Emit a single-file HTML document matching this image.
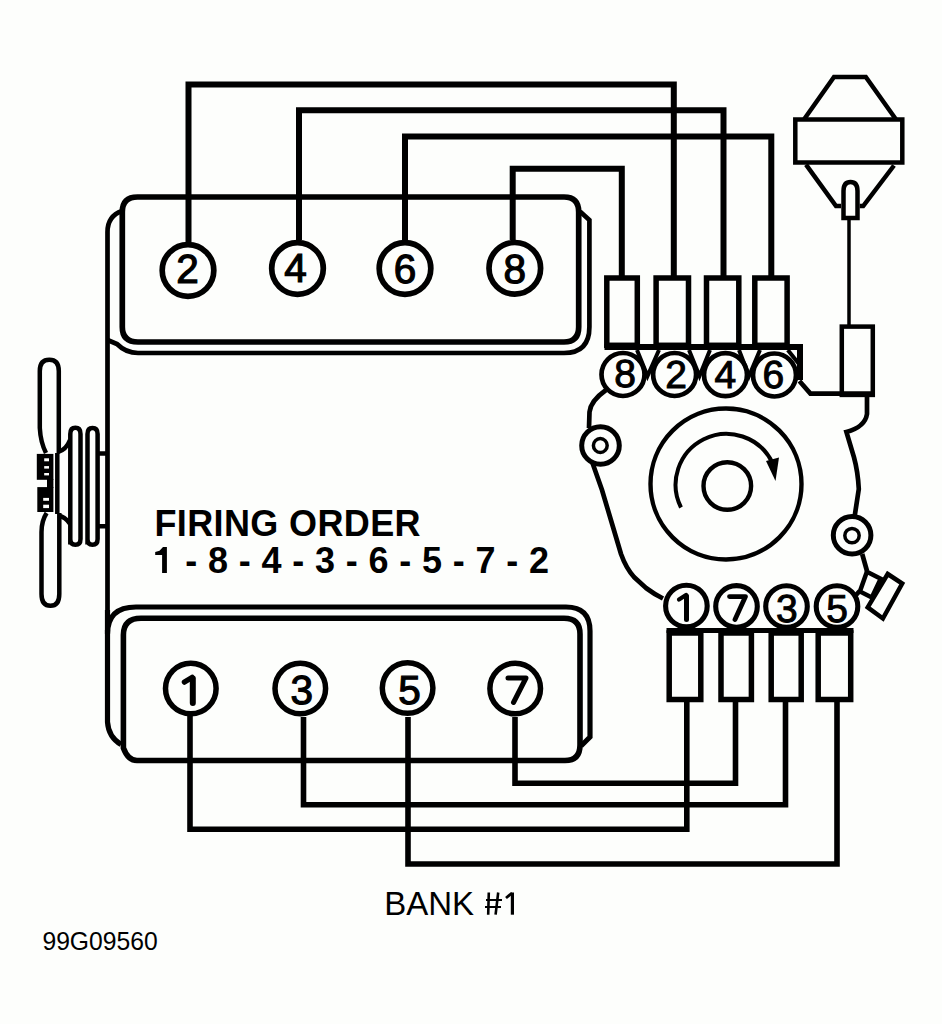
<!DOCTYPE html>
<html><head><meta charset="utf-8">
<style>
html,body{margin:0;padding:0;background:#fdfefc;}
body{width:942px;height:1024px;overflow:hidden;}
svg{display:block;}
text{font-family:"Liberation Sans",sans-serif;}
</style></head>
<body>
<svg width="942" height="1024" viewBox="0 0 942 1024">
<rect width="942" height="1024" fill="#fdfefc"/>
<g fill="none" stroke="#000" stroke-linejoin="miter" stroke-linecap="butt">

<!-- top wires -->
<g stroke-width="6">
<path d="M188.5,242 V84.5 H673.8 V276"/>
<path d="M299,240 V110.2 H723.5 V276"/>
<path d="M405,240 V136.5 H771.3 V276"/>
<path d="M512.7,240 V168.8 H621.8 V276"/>
</g>

<!-- top valve cover -->
<path d="M137.5,197 H564 Q578.7,197 578.7,212 V327 Q578.7,342 564,342 H138 Q122.3,342 122.3,327 V212 Q122.3,197 137.5,197 Z" stroke-width="5.7"/>
<g stroke-width="4.7">
<path d="M122,211 Q107.5,216 107.5,232 V620"/>
<path d="M580,211.5 L589.4,220 V327 Q589.4,353 564,353 H138 Q126,353 117,344 L107.5,340"/>
</g>

<!-- top circles -->
<g stroke-width="5.7">
<circle cx="188" cy="270.5" r="25.8"/>
<circle cx="297.5" cy="268.5" r="25.8"/>
<circle cx="405" cy="268.5" r="25.8"/>
<circle cx="514.8" cy="268.3" r="25.8"/>
</g>

<!-- bottom valve cover -->
<g stroke-width="5.2">
<path stroke-width="5.6" d="M141,618.3 H564 Q580,618.3 580,634 V745 Q580,760.5 565,760.5 H137 Q128,760.5 123.4,748 V635 Q123.4,618.3 141,618.3 Z"/>
<path d="M107.5,610 V634 Q107.5,607 136,607 H566 Q590,607 590,631 V737 L581,746"/>
<path d="M107.5,630 V722 Q108.5,737 121,744.5"/>
</g>

<!-- bottom circles -->
<g stroke-width="5.5">
<circle cx="190.8" cy="688.5" r="25.3"/>
<circle cx="300.3" cy="688.5" r="25.3"/>
<circle cx="407.6" cy="688" r="25.3"/>
<circle cx="515.2" cy="688.5" r="25.3"/>
</g>

<!-- bottom wires -->
<g stroke-width="5.6">
<path d="M686.8,702 V829.3 H190 V716"/>
<path d="M735.5,702 V783.2 H515 V717"/>
<path d="M785.5,702 V804.7 H303.5 V717"/>
<path d="M837,702 V864 H408 V717"/>
</g>

<!-- distributor top terminals -->
<g stroke-width="5.5">
<rect x="606.8" y="278" width="30.5" height="67.3"/>
<rect x="656.1" y="278" width="32.4" height="67.3"/>
<rect x="706.5" y="278" width="32.3" height="67.3"/>
<rect x="754.8" y="278" width="32.3" height="67.3"/>
</g>
<path d="M604.5,347 H800 V380" stroke-width="6"/>
<g stroke-width="4">
<path d="M637,350 L647.5,376 L659,350"/>
<path d="M689,350 L699.5,376 L710,350"/>
<path d="M739,350 L749,376 L760,350"/>
<path d="M787.8,350 L799,364"/>
</g>
<g stroke-width="4.7">
<circle cx="623" cy="374.5" r="21.5"/>
<circle cx="674.6" cy="374.5" r="21.5"/>
<circle cx="725.5" cy="374.7" r="21.5"/>
<circle cx="774.5" cy="375" r="21.5"/>
</g>

<!-- distributor bottom terminals -->
<g stroke-width="5.1">
<circle cx="686.4" cy="606" r="20.8"/>
<circle cx="736.5" cy="606.4" r="20.8"/>
<circle cx="786.5" cy="606.5" r="20.8"/>
<circle cx="837" cy="606.5" r="20.8"/>
</g>
<path d="M666.5,630.5 H853.5" stroke-width="5"/>
<g stroke-width="5.5">
<rect x="669.2" y="633" width="31.6" height="66.5"/>
<rect x="721" y="633" width="30.4" height="66.5"/>
<rect x="771.2" y="633" width="30" height="66.5"/>
<rect x="818.2" y="633" width="32.5" height="66.5"/>
</g>

<!-- distributor body -->
<g stroke-width="4.7">
<path d="M606,390 Q590.5,401 589.5,412 L589,428"/>
<path d="M592.5,463 L602,490 L613,527 L621,554 Q626,568 634,577 L646,588 Q654,594 663,598.5"/>
<path d="M799.4,381 L810.4,393.6 H871"/>
<path d="M867,397 V414 Q865,427 846.4,432 L854,457.3 Q858,472 858.8,489 L854.7,516"/>
<path d="M862.2,554 L867,571"/>
<path d="M859.7,591 L856,595"/>
</g>
<circle cx="726" cy="484" r="75.5" stroke-width="4.4"/>
<path d="M681,507.5 A49,49 0 1 1 772,462" stroke-width="4"/>
<circle cx="727.3" cy="486" r="23.8" stroke-width="4.4"/>
<g stroke-width="5">
<circle cx="600.5" cy="445.5" r="18.8"/>
<circle cx="852.1" cy="535.2" r="18.8"/>
</g>
<g stroke-width="3.5">
<circle cx="600.3" cy="445.5" r="6.9"/>
<circle cx="852" cy="535.6" r="7.2"/>
</g>
<path d="M766,461 L779,457.5 L775.5,481 Z" fill="#000" stroke="none"/>

<!-- vacuum unit -->
<g stroke-width="4.5">
<path d="M866.9,571.7 L880.7,578.8 L871.8,597.4 L859.9,591.4 Z"/>
<path d="M887.7,574 L902.2,583.6 L882.9,618.5 L867.7,607.4 Z"/>
</g>

<!-- coil -->
<g stroke-width="4.5">
<path d="M804.3,119 L834,77 H865.8 L895.7,119"/>
<rect x="795.3" y="119.5" width="107" height="43"/>
<path d="M806,164.6 L836,206 H841 M859.7,206 H863.2 L894,165.5"/>
<path d="M843.5,218 V191 Q843.5,182 850.5,182 Q857.5,182 857.5,191 V218 Z"/>
<rect x="841.8" y="326.6" width="31" height="68.3"/>
</g>
<path d="M849,218 V326" stroke-width="3.5"/>

<!-- ones -->
<g stroke-linecap="round" stroke-linejoin="round">
<path d="M192.8,678.5 V703" stroke-width="6"/>
<path d="M184.5,682 L192,677.5" stroke-width="5.5"/>
<path d="M686.5,596 V619.5" stroke-width="5"/>
<path d="M679,599.5 L686,595" stroke-width="4.2"/>
<path d="M508,678 H526 L513.5,702.5" stroke-width="5"/>
<path d="M729.5,596.6 H745.5 L735,619.5" stroke-width="4.8"/>
</g>

<!-- fan -->
<g stroke-width="4.5">
<path d="M58.8,453 V371 Q58.8,359.8 49.3,359.8 Q39.8,359.8 39.8,371 V428 Q40.5,442 46,453"/>
<path d="M57.3,453 V514"/>
<path d="M46.6,513 Q41.5,521 41.5,532 V594 Q41.5,605.8 50.5,605.8 Q59.3,605.8 59.3,594 V513"/>
<path d="M70.3,544.5 V434 Q70.3,427.8 75.4,427.8 Q80.5,427.8 80.5,434 V539 Q80.5,544.8 75.4,544.8 Q70.3,544.8 70.3,539 Z"/>
<path d="M87.5,544.5 V434 Q87.5,428 92.5,428 Q97.6,428 97.6,434 V539 Q97.6,544.8 92.5,544.8 Q87.5,544.8 87.5,539 Z"/>
<path d="M97.6,453.5 H108 M97.6,526.2 H108"/>
<path d="M58,452 Q66,450 70,440"/>
<path d="M58,515.5 Q66,517 70,524"/>
</g>
<g fill="#000" stroke="none">
<rect x="36.8" y="453.9" width="16.6" height="25.9"/>
<rect x="37.3" y="487.1" width="16.1" height="24.9"/>
<rect x="47" y="479" width="6.4" height="9"/>
</g>
<g fill="#fdfefc" stroke="none">
<rect x="44.2" y="458.3" width="4.8" height="3"/>
<rect x="44.2" y="466.1" width="4.8" height="2.5"/>
<rect x="44.2" y="473" width="4.8" height="2.4"/>
<rect x="43.2" y="497.9" width="5.8" height="2.9"/>
<rect x="43.2" y="504.7" width="5.8" height="3.4"/>
</g>
</g>

</g>

<!-- text -->
<g font-family="Liberation Sans, sans-serif" fill="#000" stroke="#000" style="text-rendering:geometricPrecision">
<g font-size="40.5" stroke-width="1.2" text-anchor="middle">
<text x="187.5" y="283.2">2</text>
<text x="295.5" y="281.8">4</text>
<text x="405" y="283">6</text>
<text x="514.8" y="283">8</text>
<text x="301.8" y="703.5">3</text>
<text x="409.5" y="703.5">5</text>
</g>
<g font-size="39" stroke-width="1.0" text-anchor="middle">
<text x="625" y="386.6">8</text>
<text x="676" y="387.5">2</text>
<text x="725.3" y="387.8">4</text>
<text x="773.3" y="387.8">6</text>
<text x="786.9" y="622">3</text>
<text x="837.1" y="622">5</text>
</g>
</g>
<g font-family="Liberation Sans, sans-serif" fill="#000">
<text x="154.5" y="535.7" font-weight="bold" font-size="36" letter-spacing="0.37">FIRING ORDER</text>
<text x="174.9" y="572.8" font-weight="bold" font-size="36" letter-spacing="0.37">&#160;- 8 - 4 - 3 - 6 - 5 - 7 - 2</text>
<path d="M155.2,551.9 L159.5,550.8 L163,546.9 H166.9 V573 H162.1 V554.9 H155.2 Z"/>
<text x="384.3" y="914.7" font-size="33" transform="translate(0,914.7) scale(1,1.03) translate(0,-914.7)">BANK</text>
<g fill="none" stroke="#000">
<path d="M488.8,892.5 L488.2,914.7 M498.2,892.5 L495.6,914.7" stroke-width="2.6"/>
<path d="M486,900 H502 M485,907 H501" stroke-width="1.9"/>
<path d="M512.4,892.5 V914.7" stroke-width="3.2"/>
<path d="M506,898 L512,893" stroke-width="2.8"/>
</g>
<text x="42.4" y="950.5" font-size="24.7" transform="translate(0,950.5) scale(1,1.06) translate(0,-950.5)">99G09560</text>
</g>
</svg>
</body></html>
